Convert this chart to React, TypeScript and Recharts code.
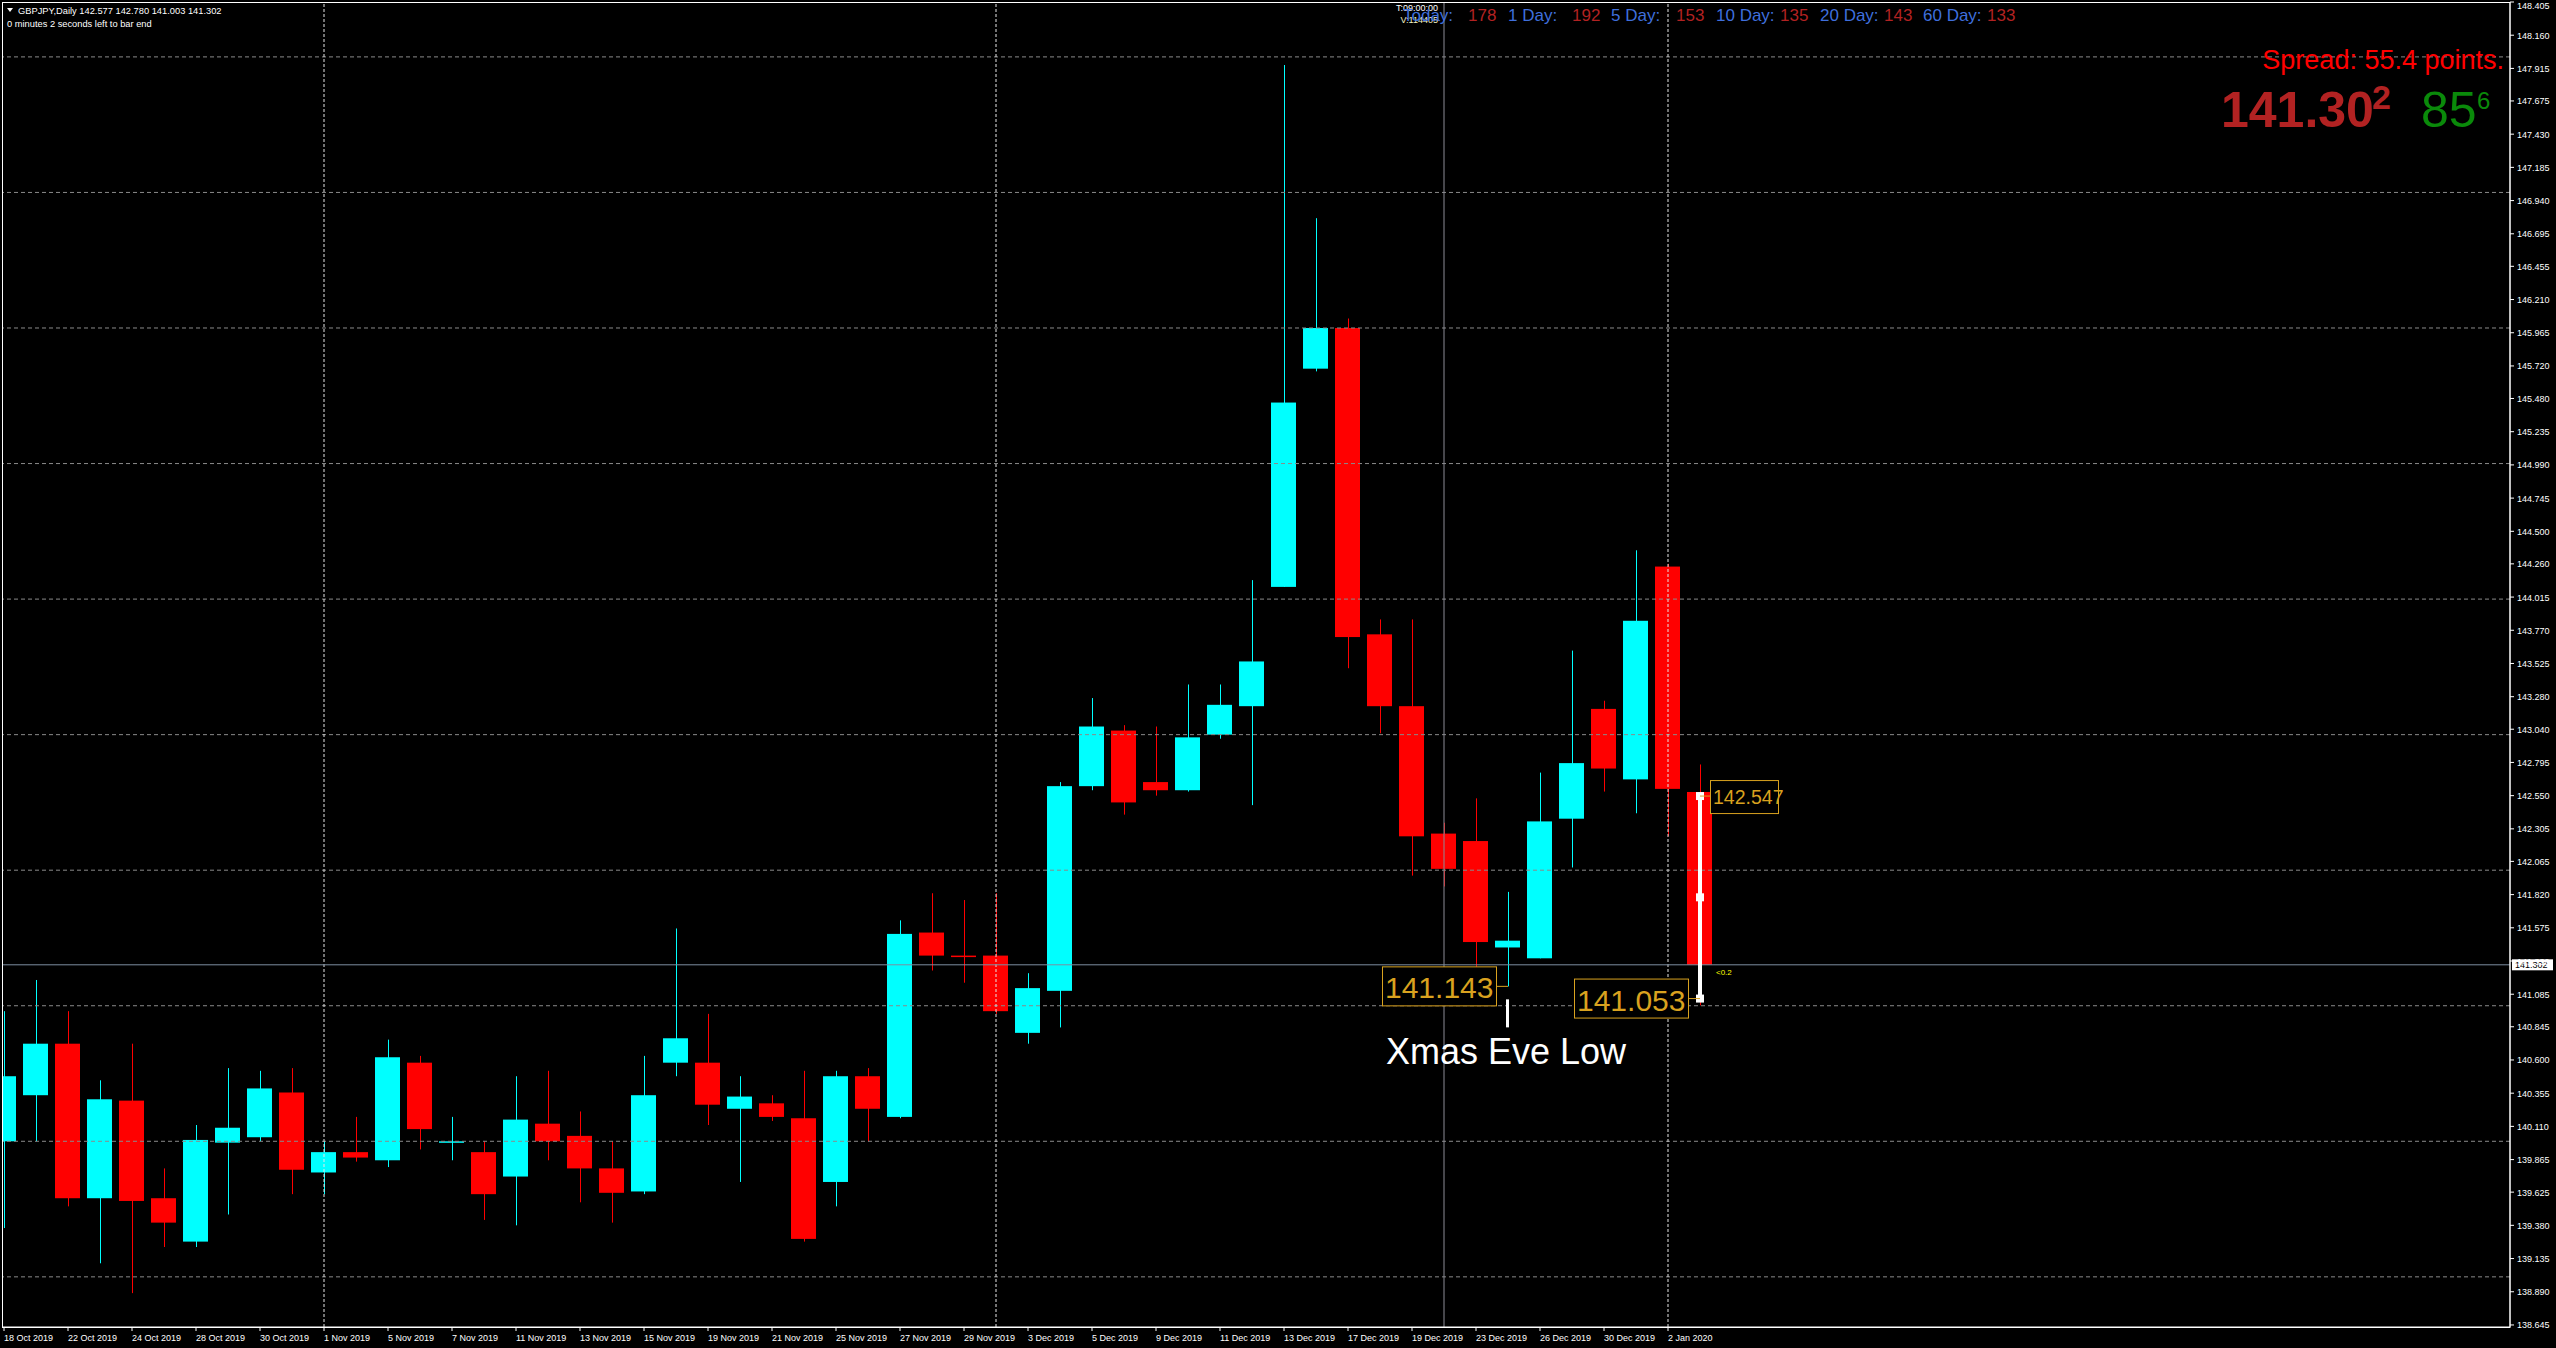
import React from 'react';
import { ComposedChart, Bar, XAxis, YAxis, ReferenceLine, ReferenceDot } from 'recharts';

// daily bars, 18 Oct 2019 .. 3 Jan 2020
const dates = [
  '18 Oct 2019', '21 Oct 2019', '22 Oct 2019', '23 Oct 2019', '24 Oct 2019', '25 Oct 2019',
  '28 Oct 2019', '29 Oct 2019', '30 Oct 2019', '31 Oct 2019', '1 Nov 2019', '4 Nov 2019',
  '5 Nov 2019', '6 Nov 2019', '7 Nov 2019', '8 Nov 2019', '11 Nov 2019', '12 Nov 2019',
  '13 Nov 2019', '14 Nov 2019', '15 Nov 2019', '18 Nov 2019', '19 Nov 2019', '20 Nov 2019',
  '21 Nov 2019', '22 Nov 2019', '25 Nov 2019', '26 Nov 2019', '27 Nov 2019', '28 Nov 2019',
  '29 Nov 2019', '2 Dec 2019', '3 Dec 2019', '4 Dec 2019', '5 Dec 2019', '6 Dec 2019',
  '9 Dec 2019', '10 Dec 2019', '11 Dec 2019', '12 Dec 2019', '13 Dec 2019', '16 Dec 2019',
  '17 Dec 2019', '18 Dec 2019', '19 Dec 2019', '20 Dec 2019', '23 Dec 2019', '24 Dec 2019',
  '26 Dec 2019', '27 Dec 2019', '30 Dec 2019', '31 Dec 2019', '2 Jan 2020', '3 Jan 2020',
];

const opens = [
  140.0, 140.34, 140.72, 139.58, 140.3, 139.58, 139.26, 139.99, 140.03, 140.36,
  139.77, 139.92, 139.86, 140.58, 139.99, 139.92, 139.74, 140.13, 140.04, 139.8,
  139.63, 140.58, 140.58, 140.24, 140.28, 140.17, 139.7, 140.48, 140.18, 141.54,
  141.37, 141.37, 140.8, 141.11, 142.62, 143.03, 142.65, 142.59, 143.0, 143.21,
  144.09, 145.7, 146.0, 143.74, 143.21, 142.27, 142.215, 141.43, 141.35, 142.38,
  143.19, 142.67, 144.24, 142.577,
];
const highs = [
  140.96, 141.19, 140.96, 140.45, 140.72, 139.8, 140.12, 140.54, 140.52, 140.54,
  140.0, 140.18, 140.75, 140.63, 140.18, 140.0, 140.48, 140.52, 140.22, 140.0,
  140.63, 141.57, 140.94, 140.48, 140.34, 140.52, 140.52, 140.54, 141.63, 141.83,
  141.78, 141.83, 141.24, 142.65, 143.27, 143.07, 143.06, 143.37, 143.37, 144.14,
  147.94, 146.81, 146.07, 143.85, 143.85, 142.35, 142.53, 141.84, 142.72, 143.62,
  143.25, 144.36, 144.26, 142.78,
];
const lows = [
  139.36, 140.0, 139.52, 139.1, 138.88, 139.22, 139.22, 139.46, 140.0, 139.61,
  139.61, 139.85, 139.81, 139.94, 139.86, 139.42, 139.38, 139.86, 139.55, 139.4,
  139.61, 140.48, 140.12, 139.7, 140.15, 139.26, 139.52, 140.0, 140.17, 141.26,
  141.17, 140.94, 140.72, 140.84, 142.59, 142.41, 142.55, 142.58, 142.97, 142.48,
  144.09, 145.68, 143.49, 143.01, 141.96, 141.88, 141.21, 141.143, 141.35, 142.02,
  142.58, 142.42, 142.25, 141.003,
];
const closes = [
  140.48, 140.72, 139.58, 140.31, 139.56, 139.4, 140.01, 140.1, 140.39, 139.79,
  139.92, 139.88, 140.62, 140.09, 140.0, 139.61, 140.16, 140.0, 139.8, 139.62,
  140.34, 140.76, 140.27, 140.33, 140.18, 139.28, 140.48, 140.24, 141.53, 141.37,
  141.36, 140.96, 141.13, 142.62, 143.06, 142.5, 142.59, 142.98, 143.22, 143.54,
  145.45, 146.0, 143.72, 143.21, 142.25, 142.01, 141.47, 141.48, 142.36, 142.79,
  142.75, 143.84, 142.6, 141.302,
];

const priceTicks = [
  148.405, 148.16, 147.915, 147.675, 147.43, 147.185, 146.94, 146.695, 146.455, 146.21,
  145.965, 145.72, 145.48, 145.235, 144.99, 144.745, 144.5, 144.26, 144.015, 143.77,
  143.525, 143.28, 143.04, 142.795, 142.55, 142.305, 142.065, 141.82, 141.575, 141.33,
  141.085, 140.845, 140.6, 140.355, 140.11, 139.865, 139.625, 139.38, 139.135, 138.89, 138.645,
];
const gridLevels = [139, 140, 141, 142, 143, 144, 145, 146, 147, 148];
const monthStarts = [10, 31, 52];
const markedBar = 45;
const xmasEveBar = 47;
const lastBar = 53;
const measureFrom = 142.547;
const measureTo = 141.053;
const spreadPoints = 55.4;

const statLabels = ['Today:', '1 Day:', '5 Day:', '10 Day:', '20 Day:', '60 Day:'];
const statValues = [178, 192, 153, 135, 143, 133];

const candles = dates.map((date, i) => ({
  i, date, open: opens[i], high: highs[i], low: lows[i], close: closes[i],
}));

const FONT = '"Liberation Sans", Arial, sans-serif';
const GOLD = '#d9a21f';
const UP = '#00ffff';
const DOWN = '#ff0000';

const Candle = (props: any) => {
  const { x, y, width, height, payload } = props;
  if (!payload || width == null) return null;
  const { open, close, high, low } = payload;
  const color = close >= open ? UP : DOWN;
  const span = high - low || 1;
  const yOf = (p: number) => y + ((high - p) / span) * height;
  const top = yOf(Math.max(open, close));
  const bot = yOf(Math.min(open, close));
  const cx = Math.round(x + width / 2) + 0.5;
  return (
    <g>
      <line x1={cx} x2={cx} y1={y} y2={y + height} stroke={color} strokeWidth={1} />
      <rect x={x} y={top} width={width} height={Math.max(bot - top, 1.5)} fill={color} />
    </g>
  );
};

const PriceTick = ({ x, y, payload }: any) => (
  <text x={x + 1} y={Math.max(y, 5)} dy={3.5} fontSize={9} fill="#ffffff" fontFamily={FONT}>
    {payload.value.toFixed(3)}
  </text>
);

const DateTick = ({ x, y, payload }: any) => (
  <text x={x} y={y} dy={8} fontSize={9} fill="#ffffff" fontFamily={FONT}>
    {dates[payload.value] ?? ''}
  </text>
);

// gold price tag, box on the left of the point
const LeftTag = ({ cx, cy, text }: any) => (
  <g>
    <line x1={cx - 11} x2={cx} y1={cy} y2={cy} stroke={GOLD} strokeWidth={1} />
    <rect x={cx - 125.5} y={cy - 19.5} width={114} height={39} fill="#000" stroke={GOLD} strokeWidth={1} />
    <text x={cx - 123} y={cy + 12} fontSize={30} fill={GOLD} fontFamily={FONT}>{text}</text>
  </g>
);

const RightTag = ({ cx, cy, text }: any) => (
  <g>
    <line x1={cx} x2={cx + 10} y1={cy} y2={cy} stroke={GOLD} strokeWidth={1} />
    <rect x={cx + 10.5} y={cy - 15.5} width={68} height={33} fill="#000" stroke={GOLD} strokeWidth={1} />
    <text x={cx + 13} y={cy + 8} fontSize={19.5} fill={GOLD} fontFamily={FONT}>{text}</text>
  </g>
);

const XmasLabel = ({ cx, cy }: any) => (
  <g>
    <rect x={cx - 2} y={cy + 13} width={3} height={28} fill="#ffffff" />
    <text x={cx - 122} y={cy + 78} fontSize={36} fill="#ffffff" fontFamily={FONT}>Xmas Eve Low</text>
  </g>
);

const Handle = ({ cx, cy }: any) => <rect x={cx - 4} y={cy - 4} width={8} height={8} fill="#ffffff" />;

const PriceBox = ({ viewBox, value }: any) => {
  const right = viewBox.x + viewBox.width;
  return (
    <g>
      <rect x={right + 2} y={viewBox.y - 5.5} width={41} height={11} fill="#ffffff" />
      <text x={right + 5} y={viewBox.y + 3.5} fontSize={9} fill="#000" fontFamily={FONT}>{value}</text>
    </g>
  );
};

export default function App() {
  const last = candles[lastBar];
  const statX = [1403, 1508, 1611, 1716, 1820, 1923];
  const valX = [1468, 1572, 1676, 1780, 1884, 1987];
  return (
    <div style={{ position: 'absolute', left: 0, top: 0, width: 2556, height: 1348, background: '#000', overflow: 'hidden' }}>
      <ComposedChart
        width={2556}
        height={1348}
        data={candles}
        margin={{ top: 2, right: 0, bottom: 0, left: 2 }}
      >
        <XAxis
          dataKey="i"
          type="number"
          domain={[-0.0625, 78.3125]}
          allowDataOverflow
          ticks={dates.map((_, i) => i).filter((i) => i % 2 === 0)}
          interval={0}
          height={21}
          stroke="#ffffff"
          tickSize={4}
          tick={<DateTick />}
        />
        <YAxis
          orientation="right"
          type="number"
          domain={[138.63, 148.405]}
          allowDataOverflow
          ticks={priceTicks}
          interval={0}
          width={46}
          stroke="#ffffff"
          tickSize={4}
          tick={<PriceTick />}
        />
        {gridLevels.map((p) => (
          <ReferenceLine key={'g' + p} y={p} stroke="#8a8a8a" strokeDasharray="4 3" />
        ))}
        {monthStarts.map((i) => (
          <ReferenceLine key={'m' + i} x={i} stroke="#e6e6e6" strokeDasharray="3 2" />
        ))}
        <ReferenceLine x={markedBar} stroke="#8c8c96" />
        <ReferenceLine
          y={last.close}
          stroke="#7d8ea0"
          label={<PriceBox value={last.close.toFixed(3)} />}
        />
        <Bar
          dataKey={(d: any) => [d.low, d.high]}
          barSize={25}
          shape={<Candle />}
          isAnimationActive={false}
        />
        <ReferenceLine
          segment={[{ x: lastBar, y: measureFrom }, { x: lastBar, y: measureTo }]}
          stroke="#ffffff"
          strokeWidth={4}
        />
        <ReferenceDot x={lastBar} y={measureFrom} shape={(p: any) => <Handle {...p} />} />
        <ReferenceDot x={lastBar} y={(measureFrom + measureTo) / 2} shape={(p: any) => <Handle {...p} />} />
        <ReferenceDot x={lastBar} y={measureTo} shape={(p: any) => <Handle {...p} />} />
        <ReferenceDot x={xmasEveBar} y={lows[xmasEveBar]} shape={(p: any) => <LeftTag {...p} text={lows[xmasEveBar].toFixed(3)} />} />
        <ReferenceDot x={xmasEveBar} y={lows[xmasEveBar]} shape={(p: any) => <XmasLabel {...p} />} />
        <ReferenceDot x={lastBar} y={measureTo} shape={(p: any) => <LeftTag {...p} text={measureTo.toFixed(3)} />} />
        <ReferenceDot x={lastBar} y={measureFrom} shape={(p: any) => <RightTag {...p} text={measureFrom.toFixed(3)} />} />
        <ReferenceDot
          x={lastBar}
          y={last.close}
          shape={(p: any) => (
            <text x={p.cx + 16} y={p.cy + 10} fontSize={8} fill="#ffff00" fontFamily={FONT}>{'<0.2'}</text>
          )}
        />
      </ComposedChart>

      <svg
        width={2556}
        height={1348}
        style={{ position: 'absolute', left: 0, top: 0, pointerEvents: 'none' }}
        fontFamily={FONT}
      >
        <rect x={2.5} y={2.5} width={2507.5} height={1325} fill="none" stroke="#ffffff" strokeWidth={1} />
        <path d="M7 8 L13 8 L10 12 Z" fill="#ffffff" />
        <text x={18} y={14} fontSize={9.3} fill="#ffffff">
          {`GBPJPY,Daily  ${last.open.toFixed(3)} ${last.high.toFixed(3)} ${last.low.toFixed(3)} ${last.close.toFixed(3)}`}
        </text>
        <text x={7} y={27} fontSize={9.3} fill="#ffffff">0 minutes 2 seconds left to bar end</text>

        <text x={1438} y={11} fontSize={9} fill="#ffffff" textAnchor="end">T:09:00:00</text>
        <text x={1438} y={23} fontSize={9} fill="#f0f0c0" textAnchor="end">V:114405</text>
        {statLabels.map((s, k) => (
          <g key={s}>
            <text x={statX[k]} y={21} fontSize={17} fill="#3f6fdc">{s}</text>
            <text x={valX[k]} y={21} fontSize={17} fill="#b22222">{statValues[k]}</text>
          </g>
        ))}

        <text x={2504} y={69} fontSize={27} fill="#ff0000" textAnchor="end">{`Spread: ${spreadPoints} points.`}</text>
        <text x={2221} y={127} fontSize={50} fontWeight="bold" fill="#b22222">141.30</text>
        <text x={2372} y={109} fontSize={34} fontWeight="bold" fill="#b22222">2</text>
        <text x={2421} y={127} fontSize={50} fill="#0a8a0a">85</text>
        <text x={2477} y={109} fontSize={24} fill="#0a8a0a">6</text>
      </svg>
    </div>
  );
}
